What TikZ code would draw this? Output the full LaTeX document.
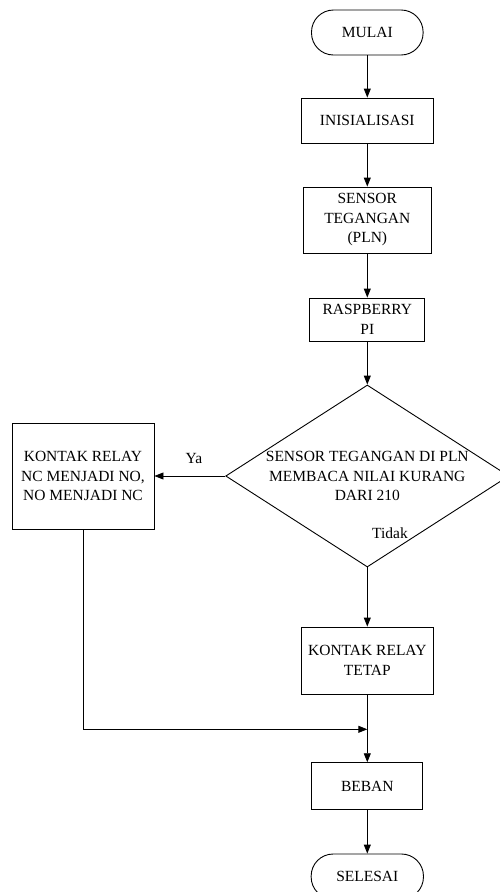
\documentclass[tikz,border=0pt]{standalone}
\usepackage{fontspec}
\setmainfont{Liberation Serif}
\usetikzlibrary{shapes.geometric,arrows.meta}
\begin{document}
\begin{tikzpicture}[x=1pt,y=-1pt,
  every node/.style={font=\fontsize{15.5}{19.5}\selectfont, align=center, inner sep=0pt},
  box/.style={draw, line width=0.9pt, rectangle},
  term/.style={draw, line width=0.9pt, rectangle, rounded corners=22pt},
  conn/.style={line width=0.9pt, -{Triangle[length=9pt,width=7pt]}},
  plain/.style={line width=0.9pt}]
\useasboundingbox (0,0) rectangle (500,892);
\node[term, minimum width=111.6pt, minimum height=45pt] (mulai) at (367.3,32.5) {MULAI};
\node[box, minimum width=132pt, minimum height=45pt] (init) at (367.3,120.5) {INISIALISASI};
\node[box, minimum width=128pt, minimum height=66pt] (sensor) at (367.3,220) {SENSOR\\TEGANGAN\\(PLN)};
\node[box, minimum width=115pt, minimum height=43pt] (rpi) at (367.3,319.5) {RASPBERRY\\PI};
\node[draw, line width=0.9pt, diamond, minimum width=283.2pt, minimum height=182pt] (dec) at (367.3,476) {};
\node (dectxt) at (367.3,476) {SENSOR TEGANGAN DI PLN\\MEMBACA NILAI KURANG\\DARI 210};
\node[box, minimum width=142pt, minimum height=106pt] (yes) at (83,476) {KONTAK RELAY\\NC MENJADI NO,\\NO MENJADI NC};
\node (ya) at (194,458) {Ya};
\node (tidak) at (390,533) {Tidak};
\node[box, minimum width=132.3pt, minimum height=67pt] (tetap) at (367.3,660.5) {KONTAK RELAY\\TETAP};
\coordinate (j) at (367.3,729.3);
\node[box, minimum width=111pt, minimum height=46.6pt] (beban) at (367.3,786) {BEBAN};
\node[term, minimum width=112.3pt, minimum height=45pt] (selesai) at (367.3,876.5) {SELESAI};
\draw[conn] (mulai.south) -- (init.north);
\draw[conn] (init.south) -- (sensor.north);
\draw[conn] (sensor.south) -- (rpi.north);
\draw[conn] (rpi.south) -- (dec.north);
\draw[conn] (dec.west) -- (yes.east);
\draw[conn] (dec.south) -- (tetap.north);
\draw[conn] (tetap.south) -- (beban.north);
\draw[conn] (yes.south) |- (j);
\draw[conn] (beban.south) -- (selesai.north);
\end{tikzpicture}
\end{document}
